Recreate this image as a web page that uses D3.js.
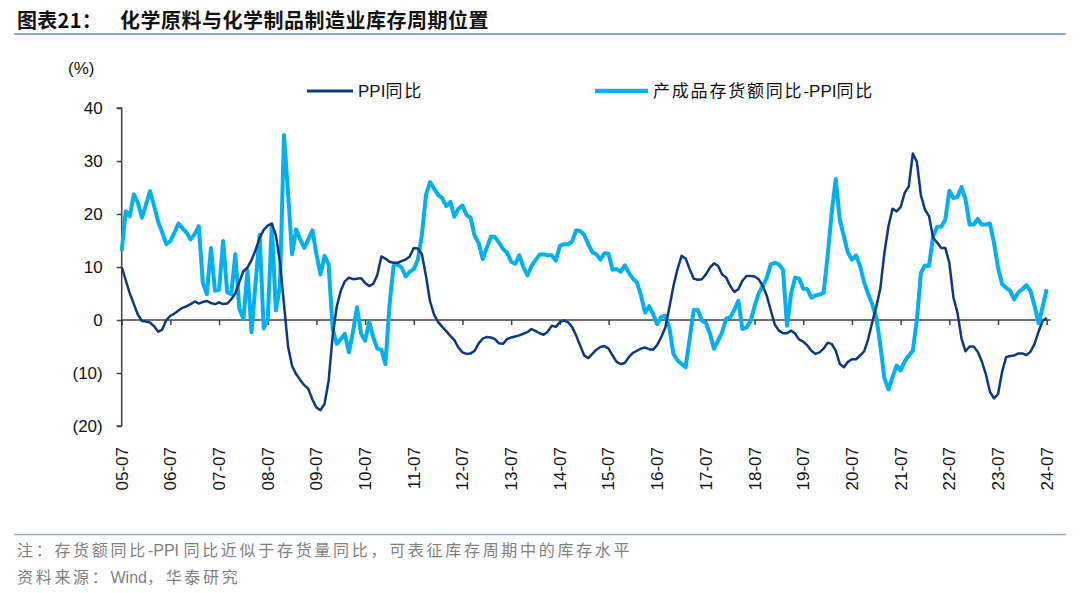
<!DOCTYPE html>
<html><head><meta charset="utf-8">
<script src="https://cdnjs.cloudflare.com/ajax/libs/d3/7.8.5/d3.min.js"></script>
<style>
html,body{margin:0;padding:0;background:#fff;}
svg{display:block;}
</style></head>
<body><svg id="chart" width="1080" height="593"></svg>
<script>
// ---- data ----
const startYear = 2005, startMonth = 7, nMonths = 229;
const xTickLabels = ["05-07","06-07","07-07","08-07","09-07","10-07","11-07","12-07","13-07","14-07","15-07","16-07","17-07","18-07","19-07","20-07","21-07","22-07","23-07","24-07"];
const yTicks = [-20,-10,0,10,20,30,40];
const seriesNames = ["PPI同比","产成品存货额同比-PPI同比"];
const ppi = [
10,7.5,5,3,1,-0.2,-0.3,-0.5,-1.2,-2.2,-1.8,0,
0.8,1.2,1.8,2.3,2.6,3.0,3.5,3.1,3.4,3.6,3.2,3.0,
3.3,3.0,3.1,3.9,5.0,7.2,9.2,9.9,11.3,13.2,15.5,17.0,
17.8,18.2,16,11,3,-5,-8.7,-10.2,-11.3,-12.3,-13,-15,
-16.5,-17,-15.8,-11.5,-3,2.5,5.5,7.3,8,7.7,7.8,7.9,
7.0,6.4,6.8,8.5,12,11.6,11,10.8,10.8,11.1,11.4,12,
13.6,13.5,12.4,8.3,3.5,1,-0.4,-1.3,-2.1,-3,-3.8,-5.2,
-6.1,-6.4,-6.3,-5.8,-4.4,-3.5,-3.2,-3.3,-3.6,-4.4,-4.5,-3.6,
-3.3,-3.1,-2.9,-2.6,-2.3,-1.7,-2.1,-2.5,-2.8,-2.2,-1.1,-1.3,
-0.4,-0.1,-0.4,-1.3,-2.9,-4.8,-6.7,-7.2,-6.4,-5.6,-5.1,-4.9,
-5.4,-6.7,-7.9,-8.3,-8.1,-7.0,-6.2,-5.8,-5.4,-5.2,-5.5,-5.6,
-4.7,-3.2,-1.4,2.4,6.4,9.6,12.1,11.6,9.6,7.8,7.6,7.7,
8.6,9.9,10.7,10.2,8.6,8,6.4,5.3,5.8,7.4,8.3,8.3,
8.2,7.7,6.4,4.6,1.8,-0.9,-2,-2.5,-2.5,-2,-2.6,-3.7,
-4.1,-4.8,-5.8,-6.4,-6.1,-5.4,-4.3,-4.5,-5.8,-8.3,-8.9,-7.9,
-7.4,-7.4,-6.7,-5.9,-3.6,-0.4,2.5,6,12.7,17.7,21,20.5,
21.3,24,25.2,31.4,29.8,23.5,20.8,19.6,15.5,14.6,13.6,13.6,
10.8,4.3,1.4,-3.5,-5.9,-5,-5,-6,-7.8,-10.2,-13.5,-14.8,
-14,-9.8,-7,-6.8,-6.7,-6.3,-6.3,-6.6,-6,-4.5,-2.2,-0.2,
0.4
];
const invGap = [
13,20.5,19.6,23.7,22.1,19.3,21.8,24.3,21.5,18.5,16.5,14.3,
14.9,16.5,18.2,17.3,16.5,15.2,16.2,17.7,7,4.9,13.6,5.5,
5.7,14.9,5.2,4.9,12.4,2.1,0.2,9.3,-2.3,7,16.1,-1.6,
0.2,18,1.8,6.4,34.9,24,12.4,17.1,15.2,13.6,15.2,16.9,
12.4,8.6,12.1,10.5,-1.7,-4.5,-3.6,-2.6,-6.1,-2.3,2.4,-2.6,
-3.9,-0.4,-3.2,-5.4,-5.6,-8.3,2.7,10.2,10.5,9.9,8.2,9.1,
9.6,11.4,16.1,23.6,26,24.8,23.6,23,21.5,22.3,19.5,21,
21.6,19.8,19.3,15.9,14.5,11.5,13.7,15.7,15.7,14.6,13.4,12.7,
11,10.6,12.2,10,8.4,10.2,11.3,12.3,12.4,12.2,12.2,11.2,
14,14.3,14.3,14.8,16.9,16.8,16.1,14.3,12.8,12.4,11.4,12.6,
12.5,9.5,9.6,9.1,10.3,8.9,7.8,7.1,4.6,1.4,2.6,1.1,
-0.8,0.6,0.8,-1.5,-6.4,-7.6,-8.3,-8.9,-3.5,1.9,1.9,-0.1,
-0.6,-2.6,-5.4,-3.9,-2.3,0.3,0.5,1.9,3.6,-1.7,-1.4,-0.2,
2.6,5,6.4,8,10.5,10.8,10.5,9.5,-1.1,5,8,7.8,
5.9,5.8,4.2,4.6,4.8,5.1,12.1,20.2,26.6,18.9,15.8,12.7,
11.4,12.2,10.2,7.1,4.9,3,0.5,-4.8,-11,-13.1,-10.8,-8.6,
-9.5,-7.8,-6.7,-5.8,0,8.9,10.3,10.2,15.8,17.6,17.6,18.9,
24.4,23,23.2,25.1,22.7,18,18,19.1,18,18,18.2,14.6,
9.9,6.8,6.1,5.5,3.9,5.2,5.8,6.6,5.5,2.7,-0.6,2.5,
5.8
];
// month category labels
const months = [];
for (let k = 0; k < nMonths; k++) {
  const m = startMonth - 1 + k;
  const y = startYear + Math.floor(m / 12);
  months.push(String(y % 100).padStart(2,"0") + "-" + String(m % 12 + 1).padStart(2,"0"));
}

// ---- layout ----
const svg = d3.select("#chart");
const plot = {left: 121.7, right: 1046.7, top: 108, bottom: 426};
const latin = "'Liberation Sans', Arial, sans-serif";
const cjk = "'Liberation Sans', 'Noto Sans CJK SC', sans-serif";
const navy = "#0D3A7C", sky = "#00B0F0";

// split text into CJK / non-CJK runs; letter-spacing only on CJK runs
function addRuns(sel, str, cjkSpacing) {
  const parts = str.match(/[\u3000-\u9fff\uff00-\uffef]+|[^\u3000-\u9fff\uff00-\uffef]+/g);
  parts.forEach(p => {
    const isCjk = /[\u3000-\u9fff\uff00-\uffef]/.test(p);
    sel.append("tspan").attr("letter-spacing", isCjk ? cjkSpacing : 0)
      .style("white-space", "pre").text(p);
  });
}

const x = d3.scalePoint().domain(months).range([plot.left, plot.right]);
const y = d3.scaleLinear().domain([-20, 40]).range([plot.bottom, plot.top]);

// title
const title = svg.append("text").attr("y", 28)
  .attr("font-family", "'Noto Sans CJK SC', sans-serif").attr("font-weight", 700)
  .attr("font-size", 20).attr("fill", "#111");
title.append("tspan").attr("x", 17).attr("letter-spacing", 0.3).text("图表21：");
title.append("tspan").attr("x", 120).attr("letter-spacing", 0.5).text("化学原料与化学制品制造业库存周期位置");
svg.append("line").attr("x1", 14).attr("x2", 1066).attr("y1", 34).attr("y2", 34)
  .attr("stroke", "#8EA9CF").attr("stroke-width", 2);

// footer
svg.append("line").attr("x1", 14).attr("x2", 1066).attr("y1", 534.5).attr("y2", 534.5)
  .attr("stroke", "#8EA9CF").attr("stroke-width", 1.5);
const f1 = svg.append("text").attr("x", 17).attr("y", 556)
  .attr("font-family", cjk).attr("font-size", 16).attr("fill", "#7f7f7f");
addRuns(f1, "注：存货额同比-PPI 同比近似于存货量同比，可表征库存周期中的库存水平", 2.7);
const f2 = svg.append("text").attr("x", 17).attr("y", 583)
  .attr("font-family", cjk).attr("font-size", 16).attr("fill", "#7f7f7f");
addRuns(f2, "资料来源：Wind，华泰研究", 2.7);

// y axis
const yAxis = d3.axisLeft(y).tickValues(yTicks).tickSize(5).tickPadding(14)
  .tickFormat(d => d < 0 ? "(" + Math.abs(d) + ")" : String(d));
const gy = svg.append("g").attr("transform", `translate(${plot.left},0)`).call(yAxis);
gy.select(".domain").attr("stroke", "#404040").attr("stroke-width", 1.5).attr("d", `M-5,${plot.top}H0V${plot.bottom}H-5`);
gy.selectAll(".tick line").attr("stroke", "#404040").attr("stroke-width", 1.5);
gy.selectAll(".tick text").attr("font-family", latin).attr("font-size", 17).attr("fill", "#111");
svg.append("text").attr("x", 68).attr("y", 74).attr("font-family", latin)
  .attr("font-size", 17).attr("fill", "#111").text("(%)");

// x axis at zero
const tickCats = months.filter(m => xTickLabels.includes(m));
const xAxis = d3.axisBottom(x).tickValues(tickCats).tickSize(5).tickFormat("");
const gx = svg.append("g").attr("transform", `translate(0,${y(0)})`).call(xAxis);
gx.select(".domain").attr("stroke", "#404040").attr("stroke-width", 1.5)
  .attr("d", `M${plot.left},0H${plot.right + 4}`);
gx.selectAll(".tick line").attr("stroke", "#404040").attr("stroke-width", 1.5);

// x labels at bottom, rotated
svg.append("g").selectAll("text").data(xTickLabels).join("text")
  .attr("transform", d => `translate(${x(d)},${plot.bottom + 21}) rotate(-90)`)
  .attr("text-anchor", "end").attr("dy", "0.35em")
  .attr("font-family", latin).attr("font-size", 17).attr("fill", "#111")
  .text(d => d);

// lines
const line = d3.line().x((d, i) => x(months[i])).y(d => y(d));
svg.append("path").datum(invGap).attr("d", line).attr("fill", "none")
  .attr("stroke", sky).attr("stroke-width", 4).attr("stroke-linejoin", "round");
svg.append("path").datum(ppi).attr("d", line).attr("fill", "none")
  .attr("stroke", navy).attr("stroke-width", 2.5).attr("stroke-linejoin", "round");

// legend
const legend = [
  {name: seriesNames[0], color: navy, w: 3, x1: 307, x2: 353},
  {name: seriesNames[1], color: sky, w: 4.5, x1: 595, x2: 648}
];
const lg = svg.append("g").selectAll("g").data(legend).join("g");
lg.append("line").attr("x1", d => d.x1).attr("x2", d => d.x2).attr("y1", 91).attr("y2", 91)
  .attr("stroke", d => d.color).attr("stroke-width", d => d.w);
lg.append("text").attr("x", d => d.x2 + 5).attr("y", 97)
  .attr("font-family", cjk).attr("font-size", 17).attr("fill", "#111")
  .each(function(d) { addRuns(d3.select(this), d.name, 1.8); });
</script></body></html>
